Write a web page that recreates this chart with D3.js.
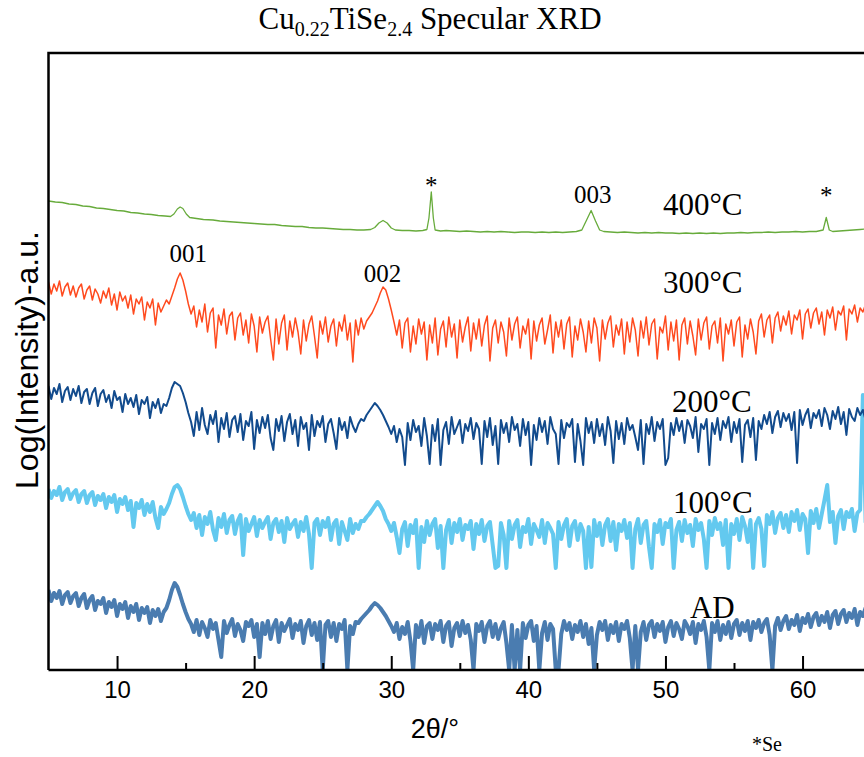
<!DOCTYPE html>
<html>
<head>
<meta charset="utf-8">
<script src="https://cdn.jsdelivr.net/npm/d3@7"></script>
<style>
  body { margin: 0; background: #fff; }
  svg { display: block; }
</style>
</head>
<body>
<div id="chart"></div>
<script>
// Data ----------------------------------------------------------------------------------------------------------------
// 2θ grid shared by the four noisy scans (degrees)
const thetaStart = 5;
const thetaStep = 0.2;

// Log(Intensity), stacked offsets in arbitrary units (0 = bottom of the plot)
const ad = [
  80, 69, 77, 72, 79, 66, 75, 78, 67, 74,
  77, 64, 72, 76, 62, 70, 74, 60, 69, 66,
  72, 57, 68, 63, 70, 54, 66, 61, 68, 52,
  64, 58, 66, 50, 62, 57, 63, 47, 60, 54,
  61, 49, 58, 62, 70, 80, 87, 83, 75, 66,
  58, 51, 46, 38, 50, 35, 48, 42, 33, 50,
  41, 47, 30, 13, 49, 37, 45, 51, 34, 46,
  40, 29, 48, 44, 50, 33, 46, 13, 47, 36,
  49, 31, 44, 50, 28, 47, 39, 45, 51, 32,
  46, 40, 49, 27, 44, 50, 35, 47, 30, 48,
  0, 45, 49, 33, 47, 29, 46, 41, 50, 0,
  44, 36, 48, 47, 51, 54, 57, 60, 64, 67,
  65, 62, 58, 54, 49, 44, 38, 47, 31, 43,
  36, 48, 29, 0, 45, 33, 49, 27, 44, 47,
  31, 46, 40, 49, 28, 44, 48, 24, 42, 47,
  34, 49, 37, 45, 30, 0, 46, 39, 48, 28,
  44, 49, 33, 46, 31, 42, 48, 27, 0, 45,
  0, 40, 0, 47, 32, 45, 49, 29, 44, 0,
  37, 48, 30, 46, 41, 0, 0, 36, 49, 40,
  47, 31, 45, 38, 49, 33, 46, 26, 42, 0,
  35, 48, 40, 49, 30, 45, 37, 48, 29, 46,
  41, 49, 32, 0, 44, 0, 38, 48, 30, 45,
  49, 33, 46, 39, 48, 28, 43, 49, 34, 47,
  41, 31, 49, 44, 36, 48, 27, 46, 40, 49,
  33, 0, 47, 38, 49, 30, 45, 36, 48, 32,
  46, 50, 35, 47, 39, 49, 30, 48, 42, 50,
  38, 47, 51, 35, 0, 44, 52, 40, 49, 54,
  41, 50, 45, 55, 39, 52, 47, 56, 43, 53,
  57, 45, 54, 48, 58, 42, 55, 59, 46, 56,
  60, 48, 57, 52, 61, 45, 58, 54, 62, 50,
  58
];

const t100 = [
  181, 172, 179, 175, 183, 170, 178, 181, 171, 177,
  180, 168, 176, 179, 167, 175, 178, 165, 174, 170,
  176, 162, 173, 168, 175, 158, 171, 166, 173, 160,
  169, 143, 167, 162, 170, 155, 166, 158, 168, 152,
  142, 163, 156, 161, 167, 176, 183, 185, 181, 173,
  164, 156, 150, 157, 142, 155, 135, 153, 146, 158,
  140, 130, 152, 143, 156, 137, 150, 154, 136, 149,
  155, 115, 151, 139, 146, 153, 134, 150, 142, 148,
  153, 131, 147, 151, 138, 149, 128, 152, 141, 146,
  150, 133, 148, 139, 153, 136, 102, 147, 151, 135,
  149, 143, 152, 130, 146, 150, 126, 148, 139, 130,
  151, 137, 146, 141, 149, 149, 153, 156, 160, 164,
  168, 164, 159, 151, 146, 139, 147, 133, 117, 141,
  148, 124, 145, 137, 150, 102, 143, 128, 149, 135,
  146, 151, 122, 144, 102, 140, 150, 127, 147, 138,
  151, 130, 145, 141, 149, 121, 146, 136, 150, 129,
  144, 148, 125, 102, 104, 147, 135, 102, 149, 131,
  145, 150, 123, 143, 138, 151, 126, 146, 140, 133,
  150, 127, 147, 142, 136, 102, 148, 131, 145, 151,
  124, 144, 149, 130, 146, 139, 102, 143, 103, 150,
  134, 147, 125, 145, 151, 129, 148, 120, 146, 139,
  150, 132, 147, 102, 141, 151, 127, 145, 149, 123,
  102, 146, 138, 150, 126, 147, 143, 151, 102, 140,
  148, 129, 150, 137, 145, 124, 151, 140, 147, 131,
  102, 149, 135, 152, 141, 147, 125, 150, 102, 146,
  136, 151, 130, 153, 144, 128, 150, 102, 146, 152,
  141, 104, 155, 146, 158, 137, 152, 157, 142, 155,
  138, 158, 149, 160, 140, 156, 151, 117, 159, 147,
  161, 142, 156, 170, 185, 148, 158, 127, 154, 160,
  141, 158, 153, 161, 139, 157, 160, 275, 148, 158,
  154
];

const t200 = [
  284, 271, 282, 276, 286, 268, 279, 283, 270, 281,
  274, 284, 267, 278, 281, 266, 277, 282, 264, 276,
  280, 268, 275, 262, 279, 270, 273, 258, 276, 266,
  272, 263, 275, 256, 270, 266, 273, 252, 268, 262,
  271, 257, 266, 264, 272, 282, 288, 286, 284, 277,
  268, 257, 248, 234, 258, 240, 262, 245, 236, 255,
  246, 259, 228, 252, 241, 257, 233, 250, 254, 238,
  256, 230, 249, 244, 258, 221, 250, 237, 253, 242,
  255, 232, 220, 251, 239, 254, 229, 248, 256, 236,
  250, 224, 253, 241, 247, 220, 255, 234, 249, 243,
  254, 228, 246, 251, 237, 221, 252, 240, 248, 232,
  253, 244, 238, 246, 251, 249, 255, 259, 263, 267,
  264, 260, 255, 249, 243, 236, 244, 228, 241, 233,
  205, 247, 230, 250, 238, 244, 224, 252, 234, 206,
  245, 229, 251, 205, 240, 248, 226, 253, 236, 243,
  250, 227, 246, 239, 252, 231, 247, 241, 206, 249,
  233, 252, 225, 244, 206, 250, 237, 247, 228, 253,
  240, 246, 224, 251, 235, 248, 205, 245, 230, 252,
  238, 249, 226, 253, 241, 236, 206, 250, 232, 247,
  243, 251, 208, 246, 229, 205, 252, 237, 248, 227,
  251, 234, 246, 225, 253, 239, 207, 249, 231, 247,
  226, 252, 240, 245, 233, 220, 250, 206, 246, 236,
  253, 229, 248, 241, 251, 205, 212, 247, 235, 252,
  239, 249, 227, 250, 244, 232, 253, 218, 246, 241,
  251, 205, 247, 236, 252, 230, 249, 242, 253, 228,
  248, 237, 251, 208, 245, 250, 233, 252, 210, 249,
  241, 255, 246, 258, 237, 253, 259, 243, 257, 249,
  256, 240, 258, 207, 260, 245, 255, 261, 242, 257,
  252, 260, 244, 262, 255, 241, 259, 251, 263, 246,
  258, 235, 261, 253, 249, 262, 255, 260, 250, 258,
  254
];

const t300 = [
  388, 376, 386, 379, 389, 374, 383, 387, 375, 384,
  373, 382, 386, 371, 380, 384, 370, 381, 376, 367,
  379, 372, 382, 365, 376, 360, 378, 369, 374, 362,
  375, 356, 371, 366, 373, 350, 368, 362, 371, 345,
  367, 358, 364, 370, 366, 374, 382, 391, 397, 390,
  379, 366, 356, 364, 343, 360, 348, 366, 338, 357,
  362, 322, 355, 345, 361, 336, 354, 358, 330, 352,
  357, 335, 350, 327, 356, 344, 318, 353, 337, 348,
  354, 331, 310, 351, 326, 347, 355, 320, 349, 333,
  352, 338, 316, 350, 329, 346, 354, 334, 312, 349,
  336, 353, 328, 344, 351, 324, 348, 339, 355, 330,
  347, 308, 350, 335, 352, 341, 349, 353, 357, 363,
  369, 377, 383, 380, 371, 360, 348, 335, 350, 322,
  347, 352, 318, 344, 326, 351, 336, 348, 310, 345,
  327, 352, 315, 341, 349, 323, 353, 333, 346, 312,
  350, 328, 343, 353, 319, 347, 331, 351, 324, 345,
  354, 309, 342, 350, 327, 348, 338, 314, 352, 330,
  346, 353, 322, 344, 336, 351, 311, 349, 329, 345,
  352, 326, 340, 355, 317, 348, 333, 350, 321, 346,
  353, 313, 344, 330, 351, 338, 318, 349, 327, 352,
  342, 309, 350, 331, 347, 354, 323, 345, 335, 351,
  316, 348, 328, 352, 340, 314, 349, 332, 353, 325,
  346, 351, 311, 343, 337, 354, 320, 348, 329, 350,
  310, 345, 352, 326, 349, 334, 315, 351, 330, 347,
  353, 321, 344, 349, 327, 352, 309, 346, 336, 350,
  324, 348, 353, 313, 345, 331, 351, 338, 316, 349,
  356, 333, 350, 355, 327, 352, 358, 339, 354, 345,
  359, 336, 355, 350, 360, 331, 356, 361, 342, 357,
  362, 346, 358, 335, 360, 352, 363, 340, 359, 355,
  364, 330, 361, 356, 365, 348, 362, 358, 366, 350,
  362
];

// 400°C scan is smooth, read as [2θ, value] points
const t400 = [
  [5, 469], [5.5, 468], [6, 467.5], [6.5, 466], [7, 465.5], [7.5, 464], [8, 463.5], [8.5, 462], [9, 461.5],
  [9.5, 460.5], [10, 459.5], [10.5, 459], [11, 457.5], [11.5, 457], [12, 456], [12.5, 455.5], [13, 454.5],
  [13.5, 454], [13.9, 453.5], [14.15, 456], [14.4, 461], [14.6, 463], [14.8, 461.5], [15.05, 456], [15.3, 452.5],
  [15.8, 451.5], [16.3, 450.5], [17, 450], [17.5, 449], [18, 448.5], [18.5, 448], [19, 447.5], [19.5, 447],
  [20, 446.5], [20.5, 446], [21, 445.5], [21.5, 445.5], [22, 444.5], [22.5, 444], [23, 443.5], [23.5, 443.5],
  [24, 442.5], [24.5, 442], [25, 442], [25.5, 441.5], [26, 441], [26.5, 440.5], [27, 440.5], [27.5, 440],
  [28, 440], [28.5, 440.5], [28.8, 442.5], [29.1, 447], [29.4, 449.5], [29.7, 447], [30, 442], [30.3, 440],
  [30.8, 439.5], [31.3, 439.5], [31.8, 439], [32.3, 439.5], [32.6, 440.5], [32.75, 452], [32.92, 478],
  [33.07, 452], [33.2, 440], [33.6, 439], [34, 439.5], [34.5, 439], [35, 438.5], [35.5, 439], [36, 438.5],
  [36.5, 438], [37, 438.5], [37.5, 438], [38, 438.5], [38.5, 438], [39, 437.5], [39.5, 438], [40, 438],
  [40.5, 437.5], [41, 438], [41.5, 437.5], [42, 438], [42.5, 437.5], [43, 438], [43.5, 438.5], [43.9, 440],
  [44.25, 450], [44.58, 459.5], [44.9, 449], [45.2, 440], [45.5, 438.5], [46, 438], [46.5, 437.5], [47, 438],
  [47.5, 437.5], [48, 437], [48.5, 437.5], [49, 437], [49.5, 437.5], [50, 437], [50.5, 437], [51, 436.5],
  [51.5, 437], [52, 436.5], [52.5, 437], [53, 436.5], [53.5, 437], [54, 436.5], [54.5, 437], [55, 437],
  [55.5, 437.5], [56, 437], [56.5, 437.5], [57, 437.5], [57.5, 438], [58, 437.5], [58.5, 438], [59, 438],
  [59.5, 438.5], [60, 438], [60.5, 438.5], [61, 438.5], [61.5, 440], [61.73, 452.5], [61.95, 440],
  [62.2, 438.5], [62.7, 439], [63.2, 439.5], [63.7, 440], [64.2, 440.5], [64.7, 441], [65, 441]
];

const seriesColors = ["#4a7cb0", "#63c9ef", "#124b8d", "#ff4a1e", "#67ab3b"];
const seriesWidths = [4, 4, 2, 1.5, 1.3];

const xTicks = [10, 20, 30, 40, 50, 60];
const xMinorTicks = [15, 25, 35, 45, 55, 65];

// Peak annotations: label, 2θ, baseline value
const peakLabels = [
  ["001", 15.19, 408],
  ["002", 29.36, 388],
  ["003", 44.7, 467],
  ["*", 32.92, 476],
  ["*", 61.73, 466]
];
const curveLabels = [
  ["400°C", 49.82, 455],
  ["300°C", 49.82, 377],
  ["200°C", 50.48, 258],
  ["100°C", 50.55, 157],
  ["AD", 51.79, 52]
];

// Canvas -------------------------------------------------------------------------------------------------------------
const canvasWidth = 864;
const canvasHeight = 757;

const leftPadding = 48.5;
const topPadding = 53;
const bottomY = 670;
const rightEdge = 48.5 + 61 * 13.71;

const svg = d3.select("#chart")
  .append("svg")
  .attr("width", canvasWidth)
  .attr("height", canvasHeight);

const xScale = d3.scaleLinear()
  .domain([5, 66])
  .range([leftPadding, rightEdge]);
const yScale = d3.scaleLinear()
  .domain([0, 617])
  .range([bottomY, topPadding]);

svg.append("clipPath")
  .attr("id", "plot-clip")
  .append("rect")
  .attr("x", leftPadding)
  .attr("y", topPadding)
  .attr("width", rightEdge - leftPadding)
  .attr("height", bottomY - topPadding);

// Traces -------------------------------------------------------------------------------------------------------------
const gridSeries = [ad, t100, t200, t300].map(vals => vals.map((v, i) => [thetaStart + i * thetaStep, v]));
const allSeries = gridSeries.concat([t400]);

const line = d3.line()
  .x(d => xScale(d[0]))
  .y(d => yScale(d[1]));

svg.append("g")
  .attr("clip-path", "url(#plot-clip)")
  .selectAll("path")
  .data(allSeries)
  .join("path")
  .attr("d", line)
  .attr("fill", "none")
  .attr("stroke", (d, i) => seriesColors[i])
  .attr("stroke-width", (d, i) => seriesWidths[i])
  .attr("stroke-linejoin", "round");

// Frame and axis -----------------------------------------------------------------------------------------------------
const sans = "'Liberation Sans', Arial, sans-serif";

svg.append("path")
  .attr("d", "M" + rightEdge + "," + topPadding + "H" + leftPadding + "V" + bottomY)
  .attr("fill", "none")
  .attr("stroke", "black")
  .attr("stroke-width", 2.5);

const xAxis = svg.append("g")
  .attr("transform", "translate(0," + bottomY + ")")
  .call(d3.axisBottom(xScale).tickValues(xTicks).tickSize(-14).tickPadding(11));
xAxis.select(".domain")
  .attr("d", "M" + leftPadding + ",0H" + rightEdge)
  .attr("stroke-width", 2.5);
xAxis.selectAll(".tick line").attr("stroke-width", 2);
xAxis.selectAll("text")
  .style("font-family", sans)
  .style("font-size", "24px")
  .attr("fill", "black");

svg.append("g")
  .attr("transform", "translate(0," + bottomY + ")")
  .call(d3.axisBottom(xScale).tickValues(xMinorTicks).tickSize(-7).tickFormat(""))
  .call(g => g.select(".domain").remove())
  .selectAll(".tick line").attr("stroke-width", 2);

svg.append("text")
  .text("2θ/°")
  .attr("x", 435)
  .attr("y", 738)
  .attr("text-anchor", "middle")
  .style("font-family", sans)
  .style("font-size", "27px");

svg.append("text")
  .text("Log(Intensity)-a.u.")
  .attr("transform", "translate(38," + 360 + ") rotate(-90)")
  .attr("text-anchor", "middle")
  .style("font-family", sans)
  .style("font-size", "32px");

// Title --------------------------------------------------------------------------------------------------------------
const serif = "'Liberation Serif', 'Times New Roman', serif";
const title = svg.append("text")
  .attr("x", 430)
  .attr("y", 29)
  .attr("text-anchor", "middle")
  .style("font-family", serif)
  .style("font-size", "31px");
title.append("tspan").text("Cu");
title.append("tspan").text("0.22").attr("dy", 7).style("font-size", "20px");
title.append("tspan").text("TiSe").attr("dy", -7);
title.append("tspan").text("2.4").attr("dy", 7).style("font-size", "20px");
title.append("tspan").text(" Specular XRD").attr("dy", -7);

// Annotations --------------------------------------------------------------------------------------------------------
svg.selectAll(".peak-label")
  .data(peakLabels)
  .join("text")
  .attr("class", "peak-label")
  .text(d => d[0])
  .attr("x", d => xScale(d[1]))
  .attr("y", d => yScale(d[2]))
  .attr("text-anchor", "middle")
  .style("font-family", serif)
  .style("font-size", "25px");

svg.selectAll(".curve-label")
  .data(curveLabels)
  .join("text")
  .attr("class", "curve-label")
  .text(d => d[0])
  .attr("x", d => xScale(d[1]))
  .attr("y", d => yScale(d[2]))
  .style("font-family", serif)
  .style("font-size", "31px");

svg.append("text")
  .text("*Se")
  .attr("x", 752)
  .attr("y", 751)
  .style("font-family", serif)
  .style("font-size", "20px");
</script>
</body>
</html>
